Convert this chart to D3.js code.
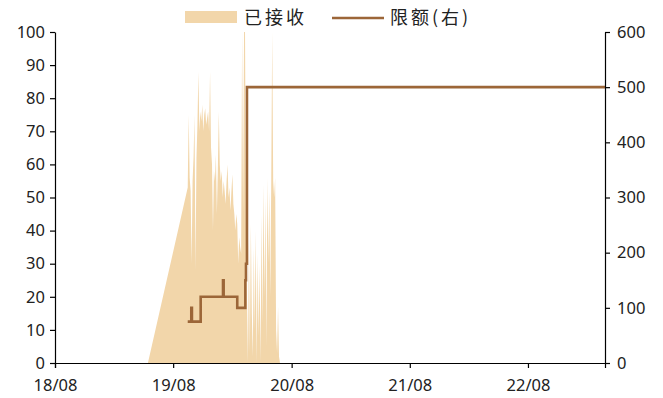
<!DOCTYPE html>
<html>
<head>
<meta charset="utf-8">
<script src="https://cdn.jsdelivr.net/npm/d3@7"></script>
<style>
  html, body { margin: 0; padding: 0; background: #fff; }
  svg text { font-family: "Noto Sans CJK SC", "Noto Sans", sans-serif; fill: #222; }
</style>
</head>
<body>
<svg id="chart" width="663" height="398"></svg>
<script>
// Received amount (left axis): ramp start, then a reading every 3 days
const receivedRampStart = "2019-05-15";
const receivedStart = "2019-09-15";
const receivedStepDays = 3;
const receivedValues = [
  53, 75, 56, 52, 30, 55, 62, 75, 28, 62, 72,
  88, 70, 76, 73, 78, 70, 75, 77, 72, 74,
  76, 70, 88, 65, 60, 40, 58, 55, 63, 45,
  58, 76, 60, 55, 58, 50, 55, 52, 48, 55,
  60, 50, 53, 46, 52, 57, 48, 45, 40, 45,
  42, 30, 38, 35, 33,
  100, 45, 100, 100, 40, 20,
  0, 38, 3, 42, 15, 2, 35, 10, 40, 0,
  33, 8, 30, 0, 45, 12, 54, 20, 50, 5,
  56, 30, 52, 20, 55, 100, 55, 50, 56, 10,
  3, 17, 2, 0
];

// Quota (right axis), step changes
const quotaDates  = ["2019-09-15", "2019-09-26", "2019-09-28", "2019-10-25", "2020-01-02", "2020-01-04", "2020-02-15", "2020-03-11", "2020-03-13", "2020-03-16", "2023-03-27"];
const quotaValues = [75, 100, 75, 120, 150, 120, 100, 150, 180, 500, 500];

const xTickDates = ["2018-08-01", "2019-08-01", "2020-08-01", "2021-08-01", "2022-08-01"];
const leftTicks  = [0, 10, 20, 30, 40, 50, 60, 70, 80, 90, 100];
const rightTicks = [0, 100, 200, 300, 400, 500, 600];

const seriesNames = ["已接收", "限额(右)"];
const areaColor = "#F2D6AA";
const lineColor = "#9C6638";

const parse = d3.timeParse("%Y-%m-%d");
const svg = d3.select("#chart");

const x = d3.scaleTime()
  .domain([parse("2018-08-01"), parse("2023-03-27")])
  .range([55, 605]);
const yL = d3.scaleLinear().domain([0, 100]).range([363, 32]);
const yR = d3.scaleLinear().domain([0, 600]).range([363, 32]);

// received series
const start = parse(receivedStart);
const received = [{ date: parse(receivedRampStart), v: 0 }].concat(
  receivedValues.map((v, i) => ({ date: d3.timeDay.offset(start, i * receivedStepDays), v }))
);

svg.append("path")
  .datum(received)
  .attr("fill", areaColor)
  .attr("d", d3.area()
    .x(d => x(d.date))
    .y0(yL(0))
    .y1(d => yL(d.v)));

// quota series
const quota = quotaDates.map((d, i) => ({ date: parse(d), v: quotaValues[i] }));
svg.append("path")
  .datum(quota)
  .attr("fill", "none")
  .attr("stroke", lineColor)
  .attr("stroke-width", 2.6)
  .attr("d", d3.line()
    .curve(d3.curveStepAfter)
    .x(d => x(d.date))
    .y(d => yR(d.v)));

// axes
function styleAxis(g) {
  g.selectAll("path.domain").attr("stroke", "#000").attr("stroke-width", 1.2);
  g.selectAll(".tick line").attr("stroke", "#000").attr("stroke-width", 1.2);
  g.selectAll(".tick text")
    .style("font-family", "\"Noto Sans\", sans-serif")
    .style("font-size", "16.5px")
    .attr("fill", "#222");
}

svg.append("g")
  .attr("transform", "translate(0,363)")
  .call(d3.axisBottom(x)
    .tickValues(xTickDates.map(parse))
    .tickFormat(d3.timeFormat("%y/%m"))
    .tickSizeOuter(0)
    .tickSize(5)
    .tickPadding(11))
  .call(styleAxis);

svg.append("g")
  .attr("transform", "translate(55,0)")
  .call(d3.axisLeft(yL)
    .tickValues(leftTicks)
    .tickSize(5)
    .tickSizeOuter(0)
    .tickPadding(5))
  .call(styleAxis);

svg.append("g")
  .attr("transform", "translate(605,0)")
  .call(d3.axisRight(yR)
    .tickValues(rightTicks)
    .tickSize(5)
    .tickSizeOuter(0)
    .tickPadding(7))
  .call(styleAxis);

// legend
const legend = svg.append("g");
legend.append("rect")
  .attr("x", 185).attr("y", 11).attr("width", 52).attr("height", 12)
  .attr("fill", areaColor);
legend.append("text")
  .attr("x", 244).attr("y", 24)
  .style("font-size", "18px")
  .style("letter-spacing", "3px")
  .text(seriesNames[0]);
legend.append("line")
  .attr("x1", 332).attr("x2", 384).attr("y1", 18).attr("y2", 18)
  .attr("stroke", lineColor).attr("stroke-width", 2.6);
legend.append("text")
  .attr("x", 390).attr("y", 24)
  .style("font-size", "18px")
  .style("letter-spacing", "3px")
  .text(seriesNames[1]);
</script>
</body>
</html>
